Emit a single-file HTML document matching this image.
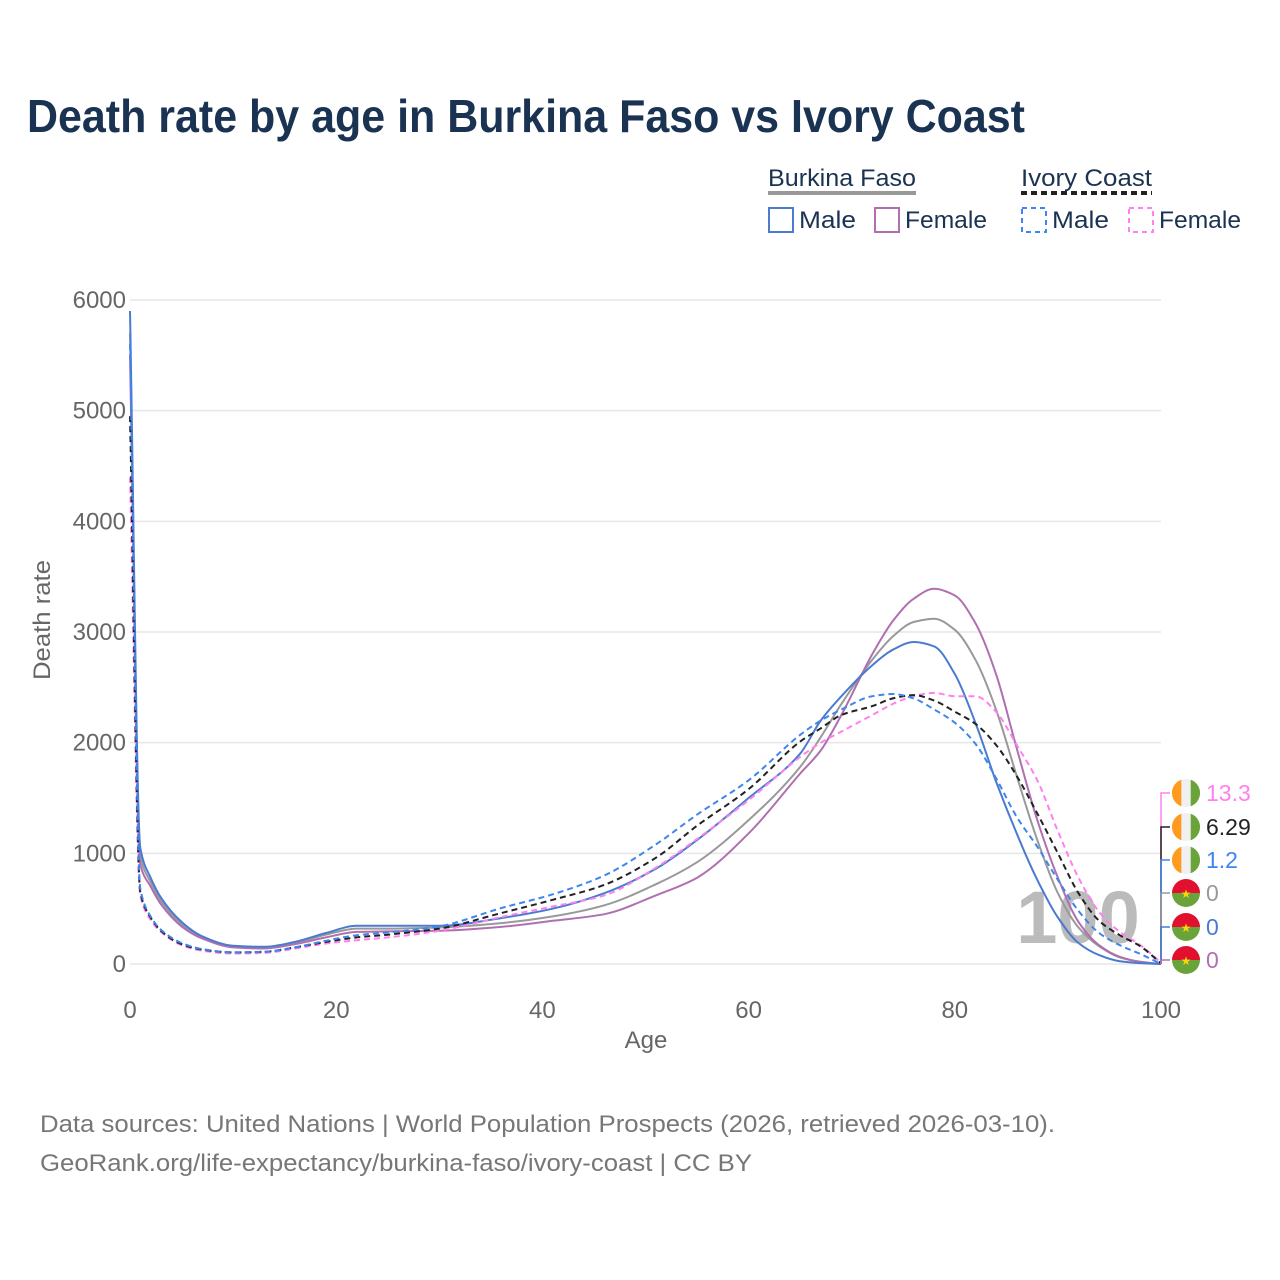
<!DOCTYPE html>
<html><head><meta charset="utf-8"><style>
html,body{margin:0;padding:0;background:#fff}
svg{display:block;font-family:"Liberation Sans",sans-serif}
</style></head><body>
<svg id="chart" width="1280" height="1280" viewBox="0 0 1280 1280" xmlns="http://www.w3.org/2000/svg">
<rect width="1280" height="1280" fill="#fff"/>
<text x="27" y="132" font-size="46" font-weight="bold" fill="#1b3352" textLength="998" lengthAdjust="spacingAndGlyphs">Death rate by age in Burkina Faso vs Ivory Coast</text>
<g font-size="24" fill="#1b3352">
  <text x="768" y="186" textLength="148" lengthAdjust="spacingAndGlyphs">Burkina Faso</text>
  <line x1="768" y1="193" x2="916" y2="193" stroke="#999" stroke-width="4"/>
  <text x="1021" y="186" textLength="131" lengthAdjust="spacingAndGlyphs">Ivory Coast</text>
  <line x1="1021" y1="193" x2="1152" y2="193" stroke="#222" stroke-width="4" stroke-dasharray="6,4"/>
  <g><rect x="769" y="208" width="24" height="24" fill="none" stroke="#4a7bd0" stroke-width="2"/><text x="799" y="228" textLength="57" lengthAdjust="spacingAndGlyphs">Male</text></g>
  <g><rect x="875" y="208" width="24" height="24" fill="none" stroke="#b070b0" stroke-width="2"/><text x="905" y="228" textLength="82" lengthAdjust="spacingAndGlyphs">Female</text></g>
  <g><rect x="1022" y="208" width="24" height="24" fill="none" stroke="#3d85f0" stroke-width="2" stroke-dasharray="5,4"/><text x="1052" y="228" textLength="57" lengthAdjust="spacingAndGlyphs">Male</text></g>
  <g><rect x="1129" y="208" width="24" height="24" fill="none" stroke="#ff80ee" stroke-width="2" stroke-dasharray="5,4"/><text x="1159" y="228" textLength="82" lengthAdjust="spacingAndGlyphs">Female</text></g>
</g>
<g id="grid"></g>
<g id="yticks" font-size="24" fill="#666" text-anchor="end"></g>
<g id="xticks" font-size="24" fill="#666" text-anchor="middle"></g>
<text x="50" y="620" font-size="24" fill="#666" text-anchor="middle" transform="rotate(-90 50 620)" textLength="120" lengthAdjust="spacingAndGlyphs">Death rate</text>
<text x="646" y="1048" font-size="24" fill="#666" text-anchor="middle">Age</text>
<text x="1078" y="943" font-size="74" font-weight="bold" fill="#bbb" text-anchor="middle">100</text>
<g id="series"></g>
<g id="endlabels" font-size="23"></g>
<g font-size="24" fill="#777">
<text x="40" y="1132" textLength="1015" lengthAdjust="spacingAndGlyphs">Data sources: United Nations | World Population Prospects (2026, retrieved 2026-03-10).</text>
<text x="40" y="1171" textLength="712" lengthAdjust="spacingAndGlyphs">GeoRank.org/life-expectancy/burkina-faso/ivory-coast | CC BY</text>
</g>
</svg>
<script>
const ages=[0,1,2,3,5,7,10,13,16,19,22,25,30,36,41,46,51,55,60,65,67,69,72,74,76,78,80,82,84,86,88,90,92,94,96,98,100];
const bfMale=[5900,1050,780,600,380,250,165,155,200,280,345,345,345,415,500,640,860,1120,1500,1900,2200,2420,2700,2840,2910,2870,2620,2180,1650,1180,760,420,190,80,25,8,0];
const bfTotal=[5700,980,740,570,360,240,160,150,190,265,320,320,330,370,430,530,720,920,1300,1780,2050,2350,2750,2960,3090,3120,3020,2750,2300,1700,1120,640,330,160,60,20,0];
const bfFemale=[5500,900,700,540,340,230,150,140,180,240,290,295,300,335,390,450,620,780,1180,1720,1930,2250,2800,3100,3300,3390,3330,3080,2620,1950,1300,780,380,170,65,20,0];
const icTotal=[4950,650,420,300,180,130,105,110,150,200,240,265,320,460,580,715,960,1250,1580,2010,2130,2250,2330,2400,2430,2380,2280,2170,1980,1700,1360,1000,640,390,260,160,6.29];
const icMale=[5600,680,430,310,190,135,105,110,150,210,260,285,340,505,630,800,1080,1350,1660,2070,2200,2300,2420,2440,2400,2300,2180,1990,1680,1330,1060,760,480,280,170,90,1.2];
const icFemale=[4400,620,400,290,170,120,95,100,140,185,215,240,300,425,520,620,870,1130,1480,1870,2000,2100,2250,2350,2420,2450,2420,2420,2280,1980,1660,1200,780,470,290,170,13.3];
const yTicks=[0,1000,2000,3000,4000,5000,6000];
const xTicks=[0,20,40,60,80,100];
const NS="http://www.w3.org/2000/svg";
const X=a=>130+a*10.31;
const Y=v=>964-v*0.11067;
function mk(t,attrs,parent){const e=document.createElementNS(NS,t);for(const k in attrs)e.setAttribute(k,attrs[k]);parent.appendChild(e);return e;}
const grid=document.getElementById('grid'),yt=document.getElementById('yticks'),xt=document.getElementById('xticks');
yTicks.forEach(v=>{
  const l=mk('line',{x1:130,x2:1161,y1:Y(v),y2:Y(v),stroke:'#e6e6e6','stroke-width':1.5},grid);
  
  
  const t=mk('text',{x:126,y:Y(v)+8},yt);t.textContent=v;
  
  
});
xTicks.forEach(a=>{
  const t=mk('text',{x:X(a),y:1018},xt);t.textContent=a;
  
  
});
function pathD(vals){
  const n=ages.length;
  const xs=ages.map(X), ys=vals.map(Y);
  const d=[],m=new Array(n);
  for(let i=0;i<n-1;i++)d.push((ys[i+1]-ys[i])/(xs[i+1]-xs[i]));
  m[0]=d[0];m[n-1]=d[n-2];
  for(let i=1;i<n-1;i++){
    if(d[i-1]*d[i]<=0)m[i]=0;
    else{const w1=2*(xs[i+1]-xs[i])+(xs[i]-xs[i-1]),w2=(xs[i+1]-xs[i])+2*(xs[i]-xs[i-1]);m[i]=(w1+w2)/(w1/d[i-1]+w2/d[i]);}
  }
  let s='M'+xs[0].toFixed(1)+','+ys[0].toFixed(1);
  for(let i=0;i<n-1;i++){
    const h=(xs[i+1]-xs[i])/3;
    s+=' C'+(xs[i]+h).toFixed(1)+','+(ys[i]+m[i]*h).toFixed(1)+' '+(xs[i+1]-h).toFixed(1)+','+(ys[i+1]-m[i+1]*h).toFixed(1)+' '+xs[i+1].toFixed(1)+','+ys[i+1].toFixed(1);
  }
  return s;
}
const series=[
  ['bf-total-line',bfTotal,'#999',null],
  ['bf-female-line',bfFemale,'#b070b0',null],
  ['bf-male-line',bfMale,'#4a7bd0',null],
  ['ic-female-line',icFemale,'#ff80ee','6,4'],
  ['ic-total-line',icTotal,'#222','6,4'],
  ['ic-male-line',icMale,'#3d85f0','6,4']
];
const sg=document.getElementById('series');
series.forEach(s=>{
  const a={d:pathD(s[1]),fill:'none',stroke:s[2],'stroke-width':2};
  if(s[3])a['stroke-dasharray']=s[3];
  const e=mk('path',a,sg);
  
  
});
const last=arr=>arr[arr.length-1];
const labels=[
  ['ic-female-end-label',last(icFemale),'#ff80ee','ic',793],
  ['ic-total-end-label',last(icTotal),'#222','ic',827],
  ['ic-male-end-label',last(icMale),'#3d85f0','ic',860],
  ['bf-total-end-label',last(bfTotal),'#999','bf',893],
  ['bf-male-end-label',last(bfMale),'#4a7bd0','bf',927],
  ['bf-female-end-label',last(bfFemale),'#b070b0','bf',960]
];
const el=document.getElementById('endlabels');
const y0=Y(0);
labels.forEach(L=>{
  const ly=L[4];
  const conn=mk('path',{d:'M1161,'+y0+' L1161,'+ly+' L1170,'+ly,fill:'none',stroke:L[2],'stroke-width':1.5},el);
  
  
});
labels.forEach(L=>{
  const ly=L[4],cx=1186,r=14;
  const g=mk('g',{},el);
  
  
  if(L[3]==='ic'){
    mk('circle',{cx:cx,cy:ly,r:r,fill:'#f0f0f0'},g);
    mk('path',{d:`M${cx-4.7},${ly-13.2} A${r},${r} 0 0 0 ${cx-4.7},${ly+13.2} Z`,fill:'#ff9a1f'},g);
    mk('path',{d:`M${cx+4.7},${ly-13.2} A${r},${r} 0 0 1 ${cx+4.7},${ly+13.2} Z`,fill:'#6aa33a'},g);
  }else{
    mk('path',{d:`M${cx-r},${ly} A${r},${r} 0 0 1 ${cx+r},${ly} Z`,fill:'#e0102e'},g);
    mk('path',{d:`M${cx-r},${ly} A${r},${r} 0 0 0 ${cx+r},${ly} Z`,fill:'#6aa33a'},g);
    const st=mk('text',{x:cx,y:ly+5,'font-size':12,fill:'#f5d90a','text-anchor':'middle'},g);st.textContent='★';
  }
  const t=mk('text',{x:1206,y:ly+8,fill:L[2]},el);
  t.textContent=L[1];
  
  
});
</script>
</body></html>
